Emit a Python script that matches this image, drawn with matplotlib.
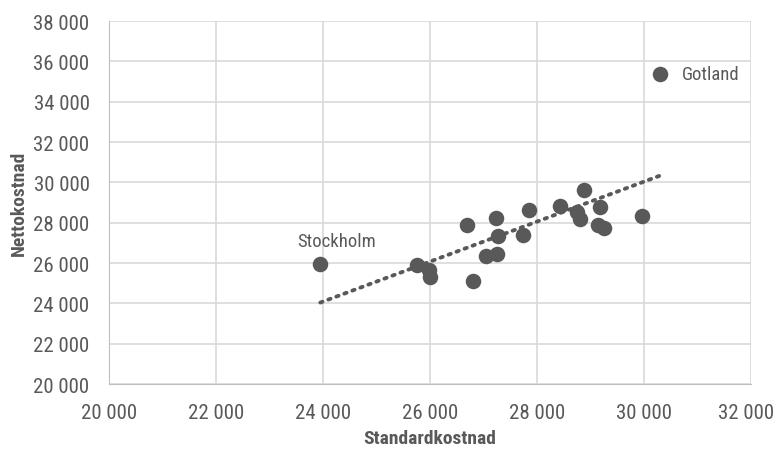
import numpy as np
import matplotlib.pyplot as plt
import matplotlib.transforms as mtransforms
from matplotlib.ticker import FuncFormatter

# Standardkostnad (x) och Nettokostnad (y) per län
std_kostnad = [23950, 25757, 25981, 26000, 26692, 26804, 27234, 27271, 27047, 27252,
               27850, 27738, 28430, 28748, 28804, 28879, 29178, 29140, 29252, 29963, 30300]
netto_kostnad = [25970, 25900, 25652, 25305, 27883, 25107, 28230, 27338, 26346, 26445,
                 28627, 27387, 28825, 28527, 28180, 29618, 28776, 27883, 27734, 28329, 35370]
namn = ['Stockholm'] + [''] * 19 + ['Gotland']

grey = '#595959'
plt.rcParams['font.family'] = ['Roboto Condensed', 'DejaVu Sans']
plt.rcParams['font.stretch'] = 'condensed'

fig = plt.figure(figsize=(7.74, 4.52), dpi=100)
ax = fig.add_axes([0.1408, 0.1482, 0.8295, 0.8031])

x = np.array(std_kostnad)
y = np.array(netto_kostnad)

# linjär trendlinje
k, m = np.polyfit(x, y, 1)
xt = np.array([x.min(), x.max()])
ax.plot(xt, k * xt + m, linestyle=(0, (0.6, 1.6)), color=grey, lw=2.8,
        dash_capstyle='round', zorder=2)

ax.scatter(x, y, s=125, color=grey, zorder=3, linewidths=0)

for xi, yi, n in zip(x, y, namn):
    if n == 'Stockholm':
        ax.annotate(n, (xi, yi), xytext=(12, 10), textcoords='offset points',
                    ha='center', va='bottom', color=grey, fontsize=13.5)
    elif n == 'Gotland':
        ax.annotate(n, (xi, yi), xytext=(16, 0), textcoords='offset points',
                    ha='left', va='center', color=grey, fontsize=13.5)

ax.set_xlim(20000, 32000)
ax.set_ylim(20000, 38000)
ax.set_xticks(np.arange(20000, 32001, 2000))
ax.set_yticks(np.arange(20000, 38001, 2000))
fmt = FuncFormatter(lambda v, p: f'{int(v):,}'.replace(',', ' '))
ax.xaxis.set_major_formatter(fmt)
ax.yaxis.set_major_formatter(fmt)

ax.grid(True, color='#d9d9d9', lw=1.2)
ax.set_axisbelow(True)
for s in ax.spines.values():
    s.set_visible(False)
ax.spines['left'].set_visible(True)
ax.spines['bottom'].set_visible(True)
ax.spines['left'].set_color('#bfbfbf')
ax.spines['bottom'].set_color('#bfbfbf')
ax.tick_params(length=0, labelsize=15, colors=grey)
ax.tick_params(axis='x', pad=14)
ax.tick_params(axis='y', pad=14)

# sista x-etiketten skjuts in lite så den ryms
last = ax.xaxis.get_major_ticks()[-1].label1
last.set_transform(last.get_transform() +
                   mtransforms.ScaledTranslation(-5 / 100, 0, fig.dpi_scale_trans))

ax.set_xlabel('Standardkostnad', fontsize=14, fontweight='bold', color=grey, labelpad=5)
ax.set_ylabel('Nettokostnad', fontsize=14, fontweight='bold', color=grey, labelpad=4)

fig.savefig('out.png', dpi=100)
